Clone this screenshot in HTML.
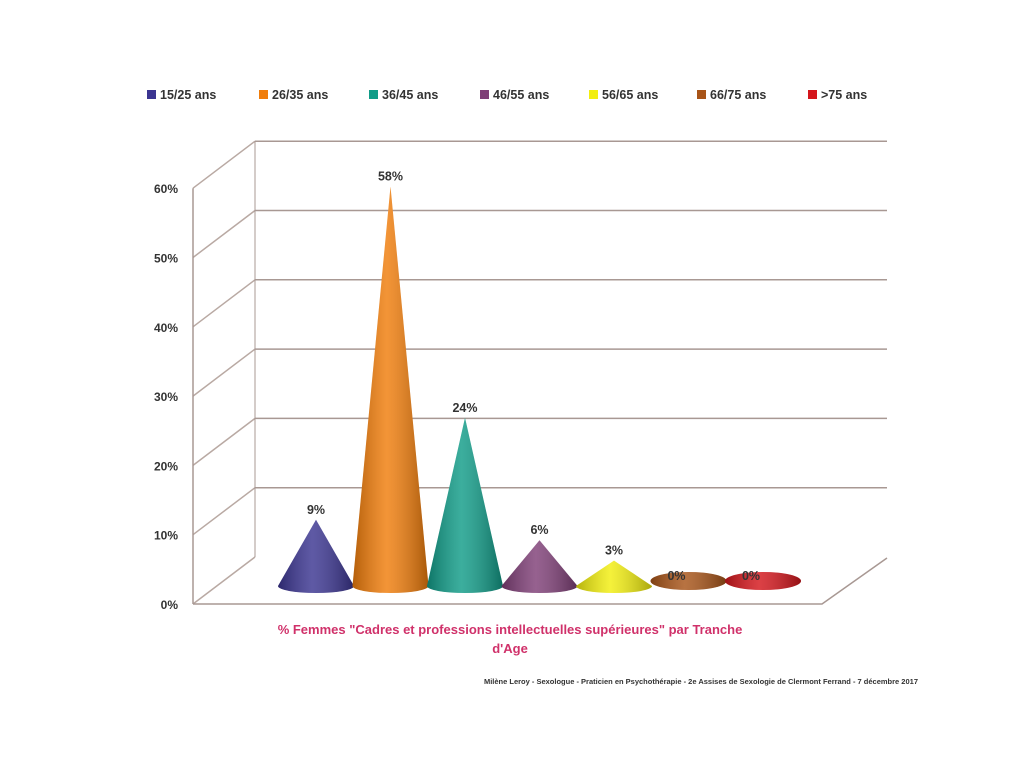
<!DOCTYPE html>
<html><head><meta charset="utf-8"><style>
body{margin:0;background:#fff;}
svg{display:block;font-family:"Liberation Sans",sans-serif;}
</style></head><body>
<svg id="chart" width="1024" height="768">
<defs>
<linearGradient id="shade" x1="0" x2="1" y1="0" y2="0">
<stop offset="0" stop-color="#000" stop-opacity="0.25"/>
<stop offset="0.45" stop-color="#fff" stop-opacity="0.18"/>
<stop offset="1" stop-color="#000" stop-opacity="0.3"/>
</linearGradient>
</defs>
<g id="grid"></g>
<g id="legend"></g>
<g id="cones"></g>
<text x="510" y="634" text-anchor="middle" font-size="13" font-weight="bold" fill="#d0316a">% Femmes "Cadres et professions intellectuelles supérieures" par Tranche</text>
<text x="510" y="653" text-anchor="middle" font-size="13" font-weight="bold" fill="#d0316a">d'Age</text>
<text x="918" y="684" text-anchor="end" font-size="7.5" font-weight="bold" fill="#333">Milène Leroy - Sexologue - Praticien en Psychothérapie - 2e Assises de Sexologie de Clermont Ferrand - 7 décembre 2017</text>
</svg>
<script>
const categories=["15/25 ans","26/35 ans","36/45 ans","46/55 ans","56/65 ans","66/75 ans",">75 ans"];
const values=[9,58,24,6,3,0,0];
const colors=["#3b3591","#f07d0b","#119c88","#7f3f77","#f2ee0f","#a85418","#d4161c"];
const ticks=[0,10,20,30,40,50,60];
const NS="http://www.w3.org/2000/svg";
function mk(tag,attrs,parent){const e=document.createElementNS(NS,tag);for(const k in attrs)e.setAttribute(k,attrs[k]);parent.appendChild(e);return e;}
const yFront=v=>604-v*6.93;
const grid=document.getElementById('grid');
// walls
ticks.forEach(t=>{
  const y=yFront(t);
  const l=mk('line',{x1:193,y1:y,x2:255,y2:y-47,stroke:'#b9a9a3','stroke-width':1.5},grid);
  
  
  if(t>0){const b=mk('line',{x1:255,y1:y-47,x2:887,y2:y-47,stroke:'#a89893','stroke-width':1.5},grid);
  
  }
  const tx=mk('text',{x:178,y:y+5,'text-anchor':'end','font-size':12,'font-weight':'bold',fill:'#333'},grid);
  tx.textContent=t+'%';
  
  
});
const floor=mk('polyline',{points:'193,604 822,604 887,558',fill:'none',stroke:'#a89893','stroke-width':1.5},grid);


const ax=mk('line',{x1:193,y1:yFront(60),x2:193,y2:604,stroke:'#a89893','stroke-width':1.5},grid);


const bw=mk('line',{x1:255,y1:yFront(60)-47,x2:255,y2:557,stroke:'#a89893','stroke-width':1},grid);


// legend
const leg=document.getElementById('legend');
const lx=[147,259,369,480,589,697,808];
categories.forEach((c,i)=>{
  const g=mk('g',{},leg);
  
  
  mk('rect',{x:lx[i],y:90,width:9,height:9,fill:colors[i]},g);
  const t=mk('text',{x:lx[i]+13,y:99,'font-size':12.5,'font-weight':'bold',fill:'#333'},g);
  t.textContent=c;
});
// cones
const cones=document.getElementById('cones');
const xC=i=>316+i*74.5;
const baseY=586, scale=6.8;
values.forEach((v,i)=>{
  const cx=xC(i), r=38, ry=7;
  const g=mk('g',{},cones);
  
  
  const top=baseY-v*scale-5;
  if(v>0){
    const d=`M${cx-r},${baseY} L${cx},${top} L${cx+r},${baseY} A${r},${ry} 0 0 1 ${cx-r},${baseY} Z`;
    mk('path',{d,fill:colors[i]},g);
    mk('path',{d,fill:'url(#shade)'},g);
  } else {
    mk('ellipse',{cx,cy:baseY-5,rx:r,ry:ry+2,fill:colors[i]},g);
    mk('ellipse',{cx,cy:baseY-5,rx:r,ry:ry+2,fill:'url(#shade)'},g);
  }
  const t=mk('text',{x:cx-12,y:(v>0?top-6:baseY-6),'text-anchor':'middle','font-size':12.5,'font-weight':'bold',fill:'#333'},g);
  if(v>0)t.setAttribute('x',cx);
  t.textContent=v+'%';
});
</script>
</body></html>
